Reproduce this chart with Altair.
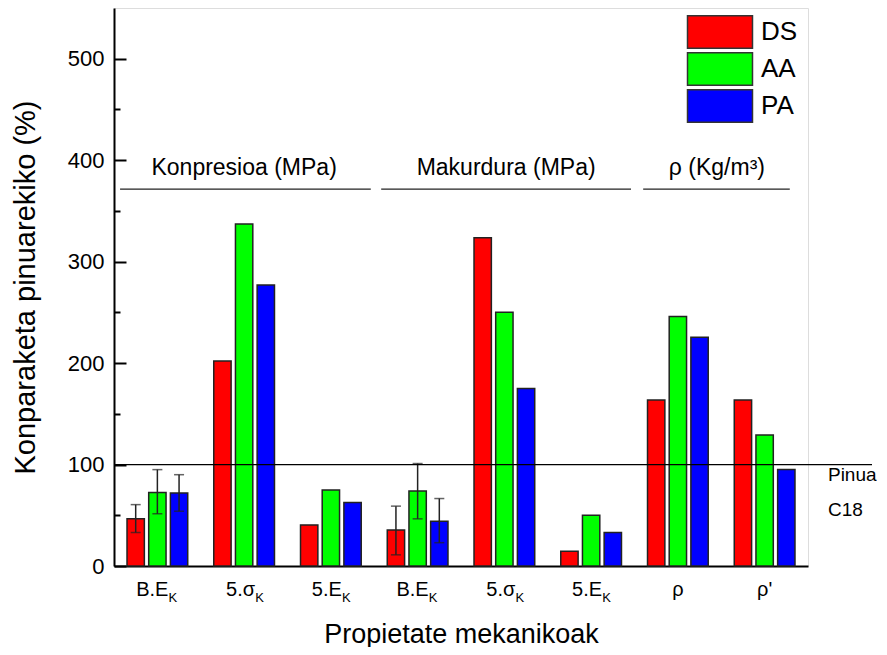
import altair as alt
import pandas as pd

# ---- data ----
cats = ["c1", "c2", "c3", "c4", "c5", "c6", "c7", "c8"]
cat_main = ["B.E", "5.σ", "5.E", "B.E", "5.σ", "5.E", "ρ", "ρ'"]
cat_sub = ["K", "K", "K", "K", "K", "K", "", ""]
series = ["DS", "AA", "PA"]
colors = ["#ff0000", "#00ff00", "#0000ff"]
ds_vals = [46.5, 202, 40.5, 35.5, 323.5, 14.5, 163.5, 163.5]
aa_vals = [72.5, 337, 75, 74, 250, 50, 246, 129]
pa_vals = [72, 277, 62.5, 44, 175, 33, 225.5, 95]

err_cat = ["c1", "c1", "c1", "c4", "c4", "c4"]
err_series = ["DS", "AA", "PA", "DS", "AA", "PA"]
err_lo = [33, 51.5, 54, 11, 46.5, 23]
err_hi = [60.5, 95, 90, 59, 101, 66.5]

group_names = ["Konpresioa (MPa)", "Makurdura (MPa)", "ρ (Kg/m³)"]
group_start = [0.07, 3.08, 6.10]
group_end = [2.96, 5.96, 7.79]
group_mid = [1.5, 4.52, 6.95]
group_line_y = [371.5, 371.5, 371.5]
group_text_y = [385, 385, 385]

ref_value = 100
ref_labels = ["Pinua", "C18"]
ref_label_y = [90, 55]

major_ticks = [0, 100, 200, 300, 400, 500]
minor_ticks = [50, 150, 250, 350, 450]

# ---- tables ----
rows = []
for vals, s in zip([ds_vals, aa_vals, pa_vals], series):
    for c, v in zip(cats, vals):
        rows.append({"cat": c, "series": s, "v": v})
bars_df = pd.DataFrame(rows)
err_df = pd.DataFrame({"cat": err_cat, "series": err_series, "lo": err_lo, "hi": err_hi})
lab_df = pd.DataFrame({"cat": cats, "main": cat_main, "sub": cat_sub})
grp_df = pd.DataFrame({"name": group_names, "x0": group_start, "x1": group_end,
                       "xm": group_mid, "ly": group_line_y, "ty": group_text_y})
ref_df = pd.DataFrame({"v": [ref_value]})
reflab_df = pd.DataFrame({"t": ref_labels, "y": ref_label_y, "x": [8.23, 8.23]})

W, H = 694, 558
FONT = "Liberation Sans"
yscale = alt.Scale(domain=[0, 550], nice=False, zero=True)
xscale = alt.Scale(domain=cats, paddingInner=0.3, paddingOuter=0.15)
xoff = alt.XOffset("series:N", sort=series,
                   scale=alt.Scale(domain=series, paddingInner=0.2, paddingOuter=0))

xenc = alt.X("cat:N", sort=cats, scale=xscale,
             axis=alt.Axis(title="Propietate mekanikoak", labels=False, ticks=False,
                           domainColor="black", domainWidth=2, titleFontSize=27,
                           titleFont=FONT, titleFontWeight="normal", titleColor="black",
                           titlePadding=55))
yaxis_main = alt.Axis(title="Konparaketa pinuarekiko  (%)", values=major_ticks, ticks=False,
                      grid=False, domainColor="black", domainWidth=2, labelFontSize=22,
                      labelFont=FONT, labelColor="black", labelPadding=10,
                      titleFontSize=29, titleFont=FONT, titleFontWeight="normal",
                      titleColor="black", titlePadding=27)

bars = alt.Chart(bars_df).mark_bar(stroke="#222", strokeWidth=1.5).encode(
    x=xenc, xOffset=xoff,
    y=alt.Y("v:Q", scale=yscale, axis=yaxis_main),
    color=alt.Color("series:N", sort=series,
                    scale=alt.Scale(domain=series, range=colors),
                    legend=alt.Legend(title=None, orient="none", legendX=589, legendY=7,
                                      symbolType="M-2,-1H2V1H-2Z", symbolSize=1056,
                                      symbolStrokeColor="#333", symbolStrokeWidth=1.5,
                                      symbolOpacity=1, labelFontSize=26, labelFont=FONT,
                                      labelColor="black", labelOffset=24, rowPadding=-4)),
)

err_rule = alt.Chart(err_df).mark_rule(color="#222", strokeWidth=1.5).encode(
    x=xenc, xOffset=xoff,
    y=alt.Y("lo:Q", scale=yscale, axis=yaxis_main), y2="hi:Q")
err_lo_t = alt.Chart(err_df).mark_tick(color="#222", thickness=1.5, size=10).encode(
    x=xenc, xOffset=xoff, y=alt.Y("lo:Q", scale=yscale, axis=yaxis_main))
err_hi_t = alt.Chart(err_df).mark_tick(color="#222", thickness=1.5, size=10).encode(
    x=xenc, xOffset=xoff, y=alt.Y("hi:Q", scale=yscale, axis=yaxis_main))

lab_main = alt.Chart(lab_df).transform_filter("datum.sub != ''").mark_text(
    align="right", baseline="middle", dx=11, fontSize=20, font=FONT, color="black").encode(
    x=xenc, y=alt.value(H + 24), text="main:N")
lab_sub = alt.Chart(lab_df).transform_filter("datum.sub != ''").mark_text(
    align="left", baseline="middle", dx=11, fontSize=13, font=FONT, color="black").encode(
    x=xenc, y=alt.value(H + 32), text="sub:N")
lab_rho = alt.Chart(lab_df).transform_filter("datum.sub == ''").mark_text(
    align="center", baseline="middle", fontSize=20, font=FONT, color="black").encode(
    x=xenc, y=alt.value(H + 24), text="main:N")

main = alt.layer(bars, err_rule, err_lo_t, err_hi_t, lab_main, lab_sub, lab_rho)

# annotation group (quantitative x in "category units")
qx = alt.Scale(domain=[0, 8], nice=False, zero=False)
yaxis_major = alt.Axis(title=None, orient="right", offset=-W, values=major_ticks,
                       labels=False, domain=False, grid=False, tickSize=12,
                       tickWidth=2, tickColor="black")
ann_rule = alt.Chart(grp_df).mark_rule(color="#222", strokeWidth=1.2).encode(
    x=alt.X("x0:Q", scale=qx, axis=None), x2="x1:Q",
    y=alt.Y("ly:Q", scale=yscale, axis=yaxis_major))
ann_text = alt.Chart(grp_df).mark_text(
    baseline="alphabetic", fontSize=23, font=FONT, color="black").encode(
    x=alt.X("xm:Q", scale=qx, axis=None),
    y=alt.Y("ty:Q", scale=yscale, axis=yaxis_major), text="name:N")
ref_text = alt.Chart(reflab_df).mark_text(
    align="left", baseline="middle", fontSize=19, font=FONT, color="black").encode(
    x=alt.X("x:Q", scale=qx, axis=None),
    y=alt.Y("y:Q", scale=yscale, axis=yaxis_major), text="t:N")
annot = alt.layer(ann_rule, ann_text, ref_text)

yaxis_minor = alt.Axis(title=None, orient="right", offset=-W, values=minor_ticks,
                       labels=False, domain=False, grid=False, tickSize=6,
                       tickWidth=2, tickColor="black")
ref_rule = alt.Chart(ref_df).mark_rule(color="black", strokeWidth=1.2).encode(
    x=alt.value(0), x2=alt.value(W + 64),
    y=alt.Y("v:Q", scale=yscale, axis=yaxis_minor))

chart = alt.layer(main, annot, ref_rule).resolve_scale(x="independent").resolve_axis(
    y="independent").properties(
    width=W, height=H, padding={"left": 3, "top": 0, "right": 0, "bottom": 0}
).configure_view(stroke="black", strokeWidth=2).configure(background="white")

chart.save("out.html", embed_options={"renderer": "svg", "actions": False})
